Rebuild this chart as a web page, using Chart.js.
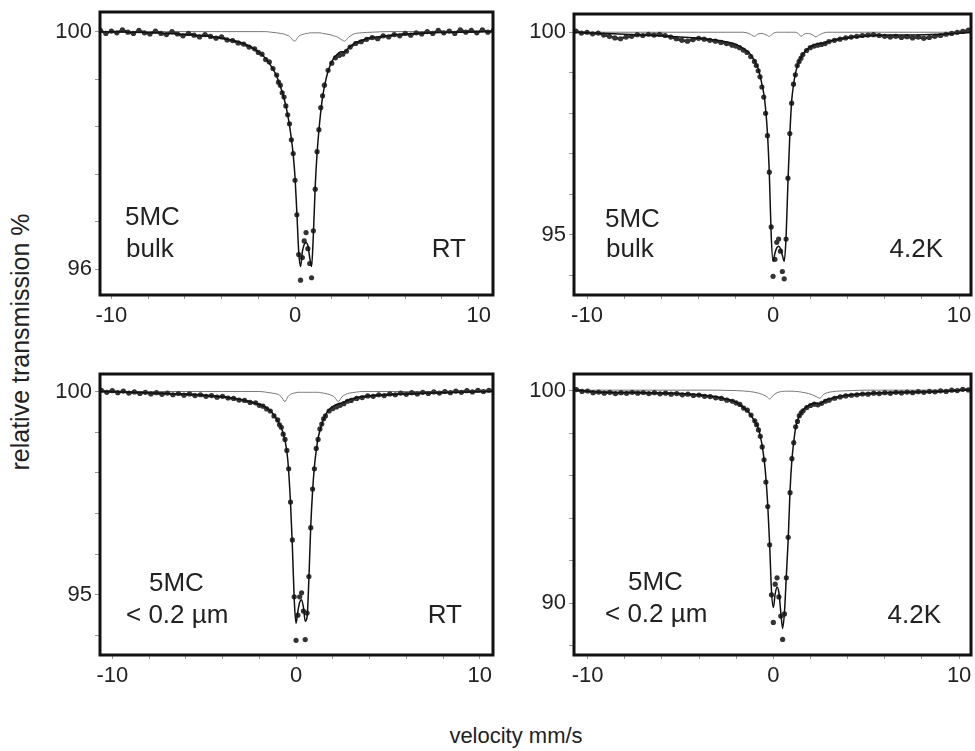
<!DOCTYPE html>
<html>
<head>
<meta charset="utf-8">
<script src="https://cdn.jsdelivr.net/npm/chart.js@4/dist/chart.umd.min.js"></script>
<style>
  html, body { margin:0; padding:0; background:#fff; }
  body { width:975px; height:751px; position:relative; overflow:hidden; font-family:"Liberation Sans", Arial, sans-serif; color:#222; }
  canvas { position:absolute; }
  .lbl { position:absolute; font-size:26px; line-height:26px; white-space:nowrap; color:#222; }
  .ttl { position:absolute; line-height:25px; white-space:nowrap; color:#222; }
</style>
</head>
<body>
<canvas id="c1" width="460" height="330" style="left:40px;top:0px"></canvas>
<canvas id="c2" width="461" height="330" style="left:514px;top:0px"></canvas>
<canvas id="c3" width="460" height="330" style="left:40px;top:360px"></canvas>
<canvas id="c4" width="461" height="330" style="left:514px;top:360px"></canvas>

<div class="lbl" style="left:125px;top:203px">5MC</div>
<div class="lbl" style="left:126px;top:235px">bulk</div>
<div class="lbl" style="right:509px;top:235px">RT</div>

<div class="lbl" style="left:605px;top:205px">5MC</div>
<div class="lbl" style="left:606px;top:235px">bulk</div>
<div class="lbl" style="right:32px;top:235px">4.2K</div>

<div class="lbl" style="left:149px;top:569px">5MC</div>
<div class="lbl" style="left:126px;top:601px">&lt; 0.2 µm</div>
<div class="lbl" style="right:513px;top:601px">RT</div>

<div class="lbl" style="left:628px;top:568px">5MC</div>
<div class="lbl" style="left:605px;top:600px">&lt; 0.2 µm</div>
<div class="lbl" style="right:34px;top:601px">4.2K</div>

<div class="ttl" style="font-size:25px;left:20px;top:342px;transform:translate(-50%,-50%) rotate(-90deg)">relative transmission %</div>
<div class="ttl" style="font-size:22px;left:516px;top:735px;transform:translate(-50%,-50%)">velocity mm/s</div>

<script>
// ---------- data ----------
const velocity = [-10.6,-10.3,-10.0,-9.7,-9.4,-9.1,-8.8,-8.5,-8.2,-7.9,-7.6,-7.3,-7.0,-6.7,-6.4,-6.1,-5.8,-5.5,-5.2,-4.9,-4.6,-4.3,-4.0,-3.7,-3.4,-3.1,-2.8,-2.5,-2.2,
  -2.0,-1.8,-1.6,-1.4,-1.2,
  -1.0,-0.9,-0.8,-0.7,-0.6,-0.5,-0.4,-0.3,-0.2,-0.1,0,0.1,0.2,0.3,0.4,0.5,0.6,0.7,0.8,0.9,1.0,1.1,1.2,1.3,1.4,1.5,1.6,
  1.8,2.0,2.2,2.4,2.6,2.8,3.0,
  3.3,3.6,3.9,4.2,4.5,4.8,5.1,5.4,5.7,6.0,6.3,6.6,6.9,7.2,7.5,7.8,8.1,8.4,8.7,9.0,9.3,9.6,9.9,10.2,10.5,10.8];

const fitVelocity = [-10.7,-9,-7,-5,-4,-3,-2.5,-2,
  -1.6,-1.3,-1.0,-0.8,-0.6,-0.45,-0.3,-0.2,-0.1,
  0,0.1,0.2,0.3,0.4,0.5,0.6,0.7,0.8,0.9,1.0,1.1,1.2,
  1.35,1.5,1.7,1.9,2.1,2.3,2.5,2.7,2.9,
  3.2,3.6,4.2,5,6,7.5,9,10.8];

// panel 1: 5MC bulk, RT
const bulkRT_data = [100.02,99.97,100.01,99.98,100.03,99.99,99.97,100.02,99.98,99.96,100.01,99.97,99.95,100.0,99.96,99.93,99.97,99.94,99.91,99.95,99.92,99.89,99.91,99.86,99.85,99.81,99.79,99.74,99.71,
  99.65,99.62,99.53,99.49,99.38,
  99.27,99.15,99.1,98.97,98.9,98.75,98.6,98.45,98.18,97.95,97.5,96.92,96.25,95.82,96.2,96.48,96.62,96.35,96.1,95.86,96.65,97.35,97.98,98.35,98.72,98.92,99.1,
  99.35,99.47,99.56,99.6,99.62,99.67,99.74,
  99.8,99.83,99.87,99.9,99.88,99.93,99.91,99.95,99.93,99.97,99.94,99.98,99.96,100.0,99.97,100.02,99.98,100.01,99.97,100.03,99.99,100.02,99.98,100.03,99.99,100.02];
const bulkRT_fit = [100.0,99.99,99.97,99.93,99.89,99.82,99.76,99.66,
  99.55,99.42,99.25,99.08,98.88,98.68,98.42,98.2,97.93,
  97.55,96.95,96.3,96.05,96.3,96.42,96.45,96.4,96.2,96.05,96.6,97.4,97.95,
  98.5,98.9,99.22,99.42,99.55,99.62,99.66,99.66,99.72,
  99.8,99.85,99.9,99.93,99.96,99.98,99.99,100.0];
const bulkRT_sub = [100,100,100,100,100,100,100,100,
  100.0,99.99,99.98,99.97,99.96,99.94,99.92,99.89,99.85,
  99.84,99.88,99.92,99.94,99.95,99.96,99.97,99.97,99.98,99.98,99.98,99.98,99.98,
  99.98,99.97,99.96,99.95,99.93,99.91,99.87,99.84,99.9,
  99.96,99.98,99.99,100,100,100,100,100];

// panel 2: 5MC bulk, 4.2K
const bulk4K_data = [100.03,99.98,100.0,99.96,99.98,99.93,99.9,99.86,99.84,99.88,99.9,99.94,99.92,99.95,99.93,99.95,99.92,99.88,99.84,99.8,99.78,99.82,99.85,99.83,99.8,99.78,99.75,99.72,99.68,
  99.66,99.62,99.56,99.5,99.4,
  99.28,99.18,99.05,98.9,98.65,98.4,98.0,97.45,96.55,95.2,93.98,94.4,94.82,94.9,94.6,94.1,93.92,94.9,96.4,97.5,98.25,98.72,98.95,99.18,99.28,99.36,99.45,
  99.55,99.62,99.66,99.68,99.7,99.72,99.77,
  99.8,99.83,99.86,99.88,99.9,99.92,99.93,99.94,99.92,99.9,99.88,99.9,99.87,99.89,99.86,99.88,99.85,99.87,99.9,99.92,99.95,99.97,100.0,100.02,100.05,100.03];
const bulk4K_fit = [100.0,99.97,99.93,99.88,99.85,99.8,99.76,99.7,
  99.6,99.5,99.3,99.1,98.72,98.33,97.5,96.5,95.0,
  94.35,94.55,94.68,94.72,94.66,94.5,94.35,94.95,96.3,97.45,98.3,98.7,98.98,
  99.22,99.38,99.52,99.6,99.66,99.7,99.72,99.72,99.76,
  99.8,99.84,99.87,99.9,99.93,99.93,99.95,100.0];
const bulk4K_sub = [100,100,100,100,100,100,100,100,
  100.0,99.97,99.9,99.96,99.97,99.95,99.92,99.89,99.93,
  99.97,99.99,100,100,100,100,100,100,100,100,100,100,100,
  99.97,99.9,99.96,99.97,99.94,99.89,99.94,99.98,100,
  100,100,100,100,100,100,100,100];

// panel 3: 5MC < 0.2 µm, RT
const fineRT_data = [100.03,99.98,100.02,99.97,100.01,99.96,99.99,99.95,99.98,99.94,99.97,99.93,99.96,99.92,99.95,99.91,99.94,99.9,99.92,99.88,99.9,99.86,99.88,99.84,99.83,99.79,99.78,99.73,99.72,
  99.66,99.64,99.57,99.52,99.4,
  99.3,99.18,99.12,98.95,98.82,98.55,98.1,97.28,96.35,94.95,93.88,94.5,94.95,95.05,94.6,93.9,94.55,95.45,96.65,97.6,98.1,98.6,98.82,99.08,99.2,99.33,99.4,
  99.52,99.58,99.62,99.66,99.7,99.76,99.78,
  99.83,99.85,99.89,99.88,99.92,99.9,99.94,99.92,99.96,99.93,99.97,99.94,99.98,99.95,99.99,99.96,100.0,99.97,100.01,99.98,100.02,99.99,100.03,100.0,100.03,100.01];
const fineRT_fit = [100.0,99.98,99.95,99.91,99.87,99.8,99.75,99.68,
  99.6,99.48,99.28,99.1,98.8,98.32,97.25,96.2,94.9,
  94.3,94.6,94.82,94.88,94.7,94.35,94.45,95.4,96.68,97.55,98.15,98.55,98.85,
  99.12,99.32,99.5,99.6,99.66,99.7,99.72,99.76,99.8,
  99.84,99.87,99.9,99.92,99.94,99.96,99.98,100.0];
const fineRT_sub = [100,100,100,100,100,100,100,100,
  99.98,99.96,99.93,99.87,99.75,99.87,99.93,99.95,99.96,
  99.97,99.98,99.98,99.98,99.98,99.98,99.98,99.98,99.98,99.98,99.98,99.98,99.98,
  99.97,99.96,99.94,99.91,99.86,99.75,99.87,99.93,99.96,
  99.98,100,100,100,100,100,100,100];

// panel 4: 5MC < 0.2 µm, 4.2K
const fine4K_data = [100.05,99.96,99.98,99.9,99.93,99.88,99.92,99.86,99.9,99.87,99.92,99.88,99.91,99.86,99.9,99.85,99.88,99.83,99.86,99.8,99.83,99.77,99.79,99.73,99.72,99.66,99.63,99.55,99.5,
  99.42,99.35,99.18,99.08,98.85,
  98.58,98.4,98.15,97.85,97.35,96.75,95.7,94.55,92.75,90.4,89.1,90.9,91.2,90.3,89.4,88.3,89.5,91.2,93.1,95.2,96.8,97.55,98.3,98.55,98.82,98.95,99.05,
  99.2,99.3,99.36,99.33,99.4,99.5,99.55,
  99.64,99.7,99.75,99.78,99.8,99.84,99.83,99.88,99.86,99.9,99.87,99.92,99.89,99.93,99.9,99.95,99.92,99.96,99.94,99.99,99.96,100.02,100.0,100.06,100.03,100.08];
const fine4K_fit = [100.02,99.92,99.9,99.86,99.8,99.7,99.6,99.45,
  99.2,98.95,98.55,98.2,97.4,96.4,94.6,92.8,90.6,
  89.8,90.45,90.75,90.5,89.6,88.82,89.6,91.3,93.0,95.3,96.75,97.6,98.25,
  98.7,98.98,99.18,99.3,99.38,99.4,99.38,99.48,99.58,
  99.66,99.74,99.8,99.86,99.9,99.93,99.96,100.05];
const fine4K_sub = [100.02,100.02,100.02,100.02,100.02,100.02,100.01,100.0,
  99.98,99.96,99.92,99.88,99.82,99.76,99.68,99.6,99.68,
  99.78,99.85,99.9,99.93,99.95,99.96,99.97,99.97,99.97,99.97,99.97,99.97,99.96,
  99.95,99.93,99.9,99.86,99.8,99.72,99.64,99.82,99.9,
  99.95,99.98,100.0,100.02,100.02,100.02,100.02,100.02];

// tick labels
const xTickLabels = [-10, 0, 10];
const yTickLabels1 = [96, 100];
const yTickLabels2 = [95, 100];
const yTickLabels3 = [95, 100];
const yTickLabels4 = [90, 100];

// ---------- drawing ----------
const FONT = '"Liberation Sans", Arial, sans-serif';

const boxPlugin = {
  id: 'box',
  afterDatasetsDraw(chart) {
    const a = chart.chartArea, ctx = chart.ctx;
    ctx.save();
    ctx.strokeStyle = '#111';
    ctx.lineWidth = 3;
    ctx.strokeRect(a.left, a.top, a.right - a.left, a.bottom - a.top);
    ctx.restore();
  }
};

function pts(xs, ys) { return xs.map((x, i) => ({ x: x, y: ys[i] })); }
function has(list, v) { return list.some(t => Math.abs(t - v) < 1e-6); }

function makePanel(id, data, fit, sub, xr, yr, yStep, yLabels, pad) {
  new Chart(document.getElementById(id), {
    type: 'scatter',
    data: {
      datasets: [
        { data: pts(fitVelocity, sub), showLine: true, borderColor: '#777', borderWidth: 1,
          pointRadius: 0, cubicInterpolationMode: 'monotone', order: 3 },
        { data: pts(velocity, data), showLine: true, borderColor: '#222', borderWidth: 2.6,
          pointRadius: 2.6, pointBackgroundColor: '#333', pointBorderWidth: 0,
          segment: { borderColor: c => Math.abs(c.p1.y - c.p0.y) > 4 ? 'rgba(0,0,0,0)' : '#222' },
          order: 2 },
        { data: pts(fitVelocity, fit), showLine: true, borderColor: '#111', borderWidth: 1.5,
          pointRadius: 0, cubicInterpolationMode: 'monotone', order: 1 }
      ]
    },
    options: {
      responsive: false, animation: false, devicePixelRatio: 1,
      layout: { padding: pad },
      plugins: { legend: { display: false }, tooltip: { enabled: false } },
      scales: {
        x: {
          type: 'linear', min: xr[0], max: xr[1],
          afterFit: s => { s.height = 35; s.paddingLeft = 0; s.paddingRight = 0; },
          border: { display: false },
          grid: { drawOnChartArea: false, drawTicks: true, tickLength: 4, tickColor: '#999', color: '#999' },
          ticks: { stepSize: 2, includeBounds: false, autoSkip: false, maxRotation: 0, padding: 4,
            color: '#222', font: { family: FONT, size: 22 },
            callback: v => has(xTickLabels, v) ? String(v) : '' }
        },
        y: {
          type: 'linear', min: yr[0], max: yr[1],
          afterFit: s => { s.width = 60; s.paddingTop = 0; s.paddingBottom = 0; },
          border: { display: false },
          grid: { drawOnChartArea: false, drawTicks: true, tickLength: 5, tickColor: '#999', color: '#999' },
          ticks: { stepSize: yStep, includeBounds: false, autoSkip: false, padding: 3,
            color: '#222', font: { family: FONT, size: 22 },
            callback: v => has(yLabels, v) ? String(Math.round(v)) : '' }
        }
      }
    },
    plugins: [boxPlugin]
  });
}

makePanel('c1', bulkRT_data, bulkRT_fit, bulkRT_sub, [-10.62, 10.78], [95.57, 100.33], 0.8, yTickLabels1, { top: 12, right: 7, left: 0, bottom: 0 });
makePanel('c2', bulk4K_data, bulk4K_fit, bulk4K_sub, [-10.7, 10.64], [93.52, 100.45], 1, yTickLabels2, { top: 14, right: 2, left: 0, bottom: 0 });
makePanel('c3', fineRT_data, fineRT_fit, fineRT_sub, [-10.67, 10.72], [93.52, 100.43], 1, yTickLabels3, { top: 14, right: 7, left: 0, bottom: 0 });
makePanel('c4', fine4K_data, fine4K_fit, fine4K_sub, [-10.73, 10.64], [87.57, 100.78], 2, yTickLabels4, { top: 14, right: 2, left: 0, bottom: 0 });
</script>
</body>
</html>
